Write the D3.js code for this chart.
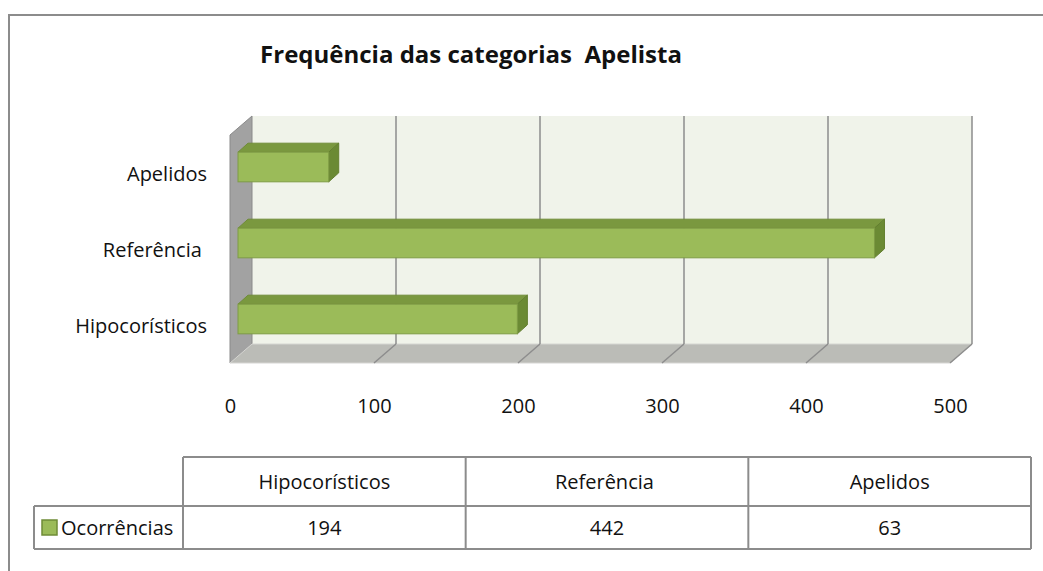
<!DOCTYPE html>
<html>
<head>
<meta charset="utf-8">
<script src="https://cdn.jsdelivr.net/npm/d3@7"></script>
<style>
  body { margin: 0; background: #fff; }
  svg text { font-family: "Open Sans", "Noto Sans", sans-serif; fill: #111; white-space: pre; }
</style>
</head>
<body>
<div id="chart"></div>
<script>
// data
var categories = ["Hipocorísticos", "Referência ", "Apelidos"];
var values = [194, 442, 63];
var xTicks = [0, 100, 200, 300, 400, 500];
var seriesName = "Ocorrências";
var title = "Frequência das categorias  Apelista";

var fullWidth = 1043;
var fullHeight = 571;

// 3d offsets (back wall is up and to the right)
var depth = { dx: 22, dy: -19 };
var barOff = { dx: 8, dy: -6 };
var barDepth = { dx: 10, dy: -9 };

var svg = d3.select("#chart")
    .append("svg")
    .attr("width", fullWidth)
    .attr("height", fullHeight);

// outer frame
svg.append("rect")
    .attr("x", 9).attr("y", 15)
    .attr("width", 1100).attr("height", 700)
    .attr("fill", "none")
    .attr("stroke", "#8c8c8c")
    .attr("stroke-width", 2);

// title
svg.append("text")
    .attr("x", 471).attr("y", 63)
    .attr("text-anchor", "middle")
    .style("font-size", "24px")
    .style("font-weight", "bold")
    .text(title);

// scales on the front plane
var x = d3.scaleLinear().domain([0, 500]).range([230, 950]);
var y = d3.scaleBand().domain(categories.slice().reverse()).range([135, 363]);

var frontTop = y.range()[0], frontBottom = y.range()[1];
var backTop = frontTop + depth.dy, backBottom = frontBottom + depth.dy;
var x0 = x(0), x1 = x(500);

var walls = svg.append("g");

// back wall
walls.append("rect")
    .attr("x", x0 + depth.dx).attr("y", backTop)
    .attr("width", x1 - x0).attr("height", backBottom - backTop)
    .attr("fill", "#f0f3ea");

// side wall
walls.append("polygon")
    .attr("points", [[x0, frontTop], [x0 + depth.dx, backTop], [x0 + depth.dx, backBottom], [x0, frontBottom]].join(" "))
    .attr("fill", "#a2a2a2")
    .attr("stroke", "#8a8a8a")
    .attr("stroke-width", 1);

// floor
walls.append("polygon")
    .attr("points", [[x0, frontBottom], [x0 + depth.dx, backBottom], [x1 + depth.dx, backBottom], [x1, frontBottom]].join(" "))
    .attr("fill", "#bbbcb7")
    .attr("stroke", "#d6d6d3")
    .attr("stroke-width", 1);

// gridlines on back wall + floor
var grid = walls.selectAll(".grid")
    .data(xTicks.slice(1))
    .enter().append("g").attr("class", "grid");
grid.append("line")
    .attr("x1", d => x(d) + depth.dx).attr("x2", d => x(d) + depth.dx)
    .attr("y1", backTop).attr("y2", backBottom)
    .attr("stroke", "#8d8d8d").attr("stroke-width", 1.5);
grid.append("line")
    .attr("x1", d => x(d) + depth.dx).attr("x2", d => x(d))
    .attr("y1", backBottom).attr("y2", frontBottom)
    .attr("stroke", "#8d8d8d").attr("stroke-width", 1.5);

// bars
var barH = y.bandwidth() * 0.39;
var bars = svg.selectAll(".bar")
    .data(categories.map((c, i) => ({ cat: c, val: values[i] })))
    .enter().append("g").attr("class", "bar");

function barGeom(d) {
    var bx0 = x(0) + barOff.dx;
    var bx1 = x(d.val) + barOff.dx;
    var cy = y(d.cat) + y.bandwidth() / 2 + barOff.dy;
    return { bx0: bx0, bx1: bx1, yt: cy - barH / 2, yb: cy + barH / 2 };
}

bars.append("polygon")
    .attr("points", function (d) {
        var g = barGeom(d);
        return [[g.bx0, g.yt], [g.bx0 + barDepth.dx, g.yt + barDepth.dy], [g.bx1 + barDepth.dx, g.yt + barDepth.dy], [g.bx1, g.yt]].join(" ");
    })
    .attr("fill", "#7a983f")
    .attr("stroke", "#6f8c37").attr("stroke-width", 1);

bars.append("polygon")
    .attr("points", function (d) {
        var g = barGeom(d);
        return [[g.bx1, g.yt], [g.bx1 + barDepth.dx, g.yt + barDepth.dy], [g.bx1 + barDepth.dx, g.yb + barDepth.dy], [g.bx1, g.yb]].join(" ");
    })
    .attr("fill", "#6b8a34")
    .attr("stroke", "#637f30").attr("stroke-width", 1);

bars.append("rect")
    .attr("x", d => barGeom(d).bx0)
    .attr("y", d => barGeom(d).yt)
    .attr("width", d => barGeom(d).bx1 - barGeom(d).bx0)
    .attr("height", barH)
    .attr("fill", "#9bbb59")
    .attr("stroke", "#7f9c45").attr("stroke-width", 1);

// x axis labels
var xAxis = svg.append("g")
    .attr("transform", "translate(0,399)")
    .call(d3.axisBottom(x).tickValues(xTicks).tickSize(0).tickPadding(0).tickFormat(d3.format("d")));
xAxis.select(".domain").remove();
xAxis.selectAll("text").style("font-size", "20px").attr("fill", "#111");

// y axis labels
var yAxis = svg.append("g")
    .attr("transform", "translate(207,2)")
    .call(d3.axisLeft(y).tickSize(0).tickPadding(0));
yAxis.select(".domain").remove();
yAxis.selectAll("text").style("font-size", "20px").attr("fill", "#111");

// data table
var tbl = { left: 34, colStart: 183, right: 1031, top: 457, mid: 506, bottom: 549 };
var col = d3.scaleBand().domain(categories).range([tbl.colStart, tbl.right]);
var table = svg.append("g");
var lineColor = "#8c8c8c";

function hline(x1, x2, yy) {
    table.append("line").attr("x1", x1).attr("x2", x2).attr("y1", yy).attr("y2", yy)
        .attr("stroke", lineColor).attr("stroke-width", 2);
}
function vline(xx, y1, y2) {
    table.append("line").attr("x1", xx).attr("x2", xx).attr("y1", y1).attr("y2", y2)
        .attr("stroke", lineColor).attr("stroke-width", 2);
}
hline(tbl.colStart, tbl.right, tbl.top);
hline(tbl.left, tbl.right, tbl.mid);
hline(tbl.left, tbl.right, tbl.bottom);
vline(tbl.left, tbl.mid, tbl.bottom);
categories.forEach(c => vline(col(c), tbl.top, tbl.bottom));
vline(tbl.right, tbl.top, tbl.bottom);

table.selectAll(".hdr")
    .data(categories)
    .enter().append("text")
    .attr("x", d => col(d) + col.bandwidth() / 2)
    .attr("y", (tbl.top + tbl.mid) / 2 + 7)
    .attr("text-anchor", "middle")
    .style("font-size", "20px")
    .text(d => d);

table.selectAll(".val")
    .data(values)
    .enter().append("text")
    .attr("x", (d, i) => col(categories[i]) + col.bandwidth() / 2)
    .attr("y", (tbl.mid + tbl.bottom) / 2 + 7)
    .attr("text-anchor", "middle")
    .style("font-size", "20px")
    .text(d => d);

// legend key
table.append("rect")
    .attr("x", 42).attr("y", 520)
    .attr("width", 15).attr("height", 15)
    .attr("fill", "#9bbb59")
    .attr("stroke", "#6f8c37").attr("stroke-width", 1.5);
table.append("text")
    .attr("x", 61).attr("y", (tbl.mid + tbl.bottom) / 2 + 7)
    .style("font-size", "20px")
    .text(seriesName);
</script>
</body>
</html>
